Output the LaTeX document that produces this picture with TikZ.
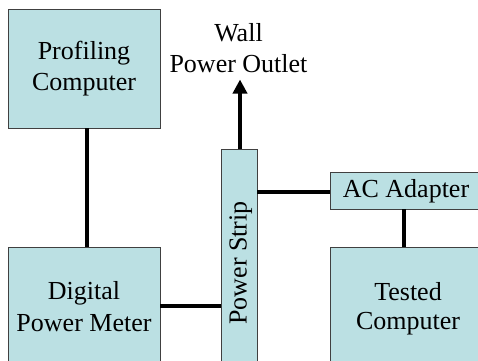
\documentclass[tikz,border=0pt]{standalone}
\usepackage{fontspec}
\setmainfont{Liberation Serif}
\usetikzlibrary{arrows.meta}
\definecolor{boxfill}{HTML}{BBE0E3}
\definecolor{boxline}{HTML}{404040}
\begin{document}
\begin{tikzpicture}[x=1pt,y=-1pt,
  box/.style={draw=boxline,line width=1pt,fill=boxfill,inner sep=0pt,outer sep=0pt,anchor=north west},
  lbl/.style={font=\fontsize{26}{30}\selectfont,inner sep=0pt,anchor=base},
  wire/.style={line width=4pt,black}]
\useasboundingbox (0,0) rectangle (478,360);
\clip (0,0) rectangle (478,360);
% boxes
\node[box,minimum width=152,minimum height=119] (pc) at (8,9) {};
\node[box,minimum width=152,minimum height=140] (dpm) at (8,247) {};
\node[box,minimum width=36,minimum height=240] (strip) at (221,149) {};
\node[box,minimum width=160,minimum height=37] (ac) at (330,172) {};
\node[box,minimum width=160,minimum height=140] (tc) at (330,247) {};
% labels
\node[lbl] (pc1) at (84,59) {Profiling};
\node[lbl] (pc2) at (84,90) {Computer};
\node[lbl] (w1) at (238.5,41.5) {Wall};
\node[lbl] (w2) at (238.5,72) {Power Outlet};
\node[lbl] (d1) at (84,299) {Digital};
\node[lbl] (d2) at (84,331) {Power Meter};
\node[lbl] (t1) at (408,300) {Tested};
\node[lbl] (t2) at (408,329) {Computer};
\node[lbl] (a1) at (406,197.5) {AC Adapter};
\node[lbl,rotate=90] (s1) at (246.5,263) {Power Strip};
% helper coordinates
\coordinate (vx1) at (87,0);
\coordinate (hy1) at (0,306);
\coordinate (vx2) at (404,0);
\coordinate (hy2) at (0,192);
\coordinate (tip) at (240,79.5);
% connectors
\draw[wire] (pc.south -| vx1) -- (dpm.north -| vx1);
\draw[wire] (dpm.east |- hy1) -- (strip.west |- hy1);
\draw[wire] (strip.east |- hy2) -- (ac.west |- hy2);
\draw[wire] (ac.south -| vx2) -- (tc.north -| vx2);
\draw[wire,-{Triangle[length=14pt,width=14pt]}] (strip.north -| tip) -- (tip);
\end{tikzpicture}
\end{document}
